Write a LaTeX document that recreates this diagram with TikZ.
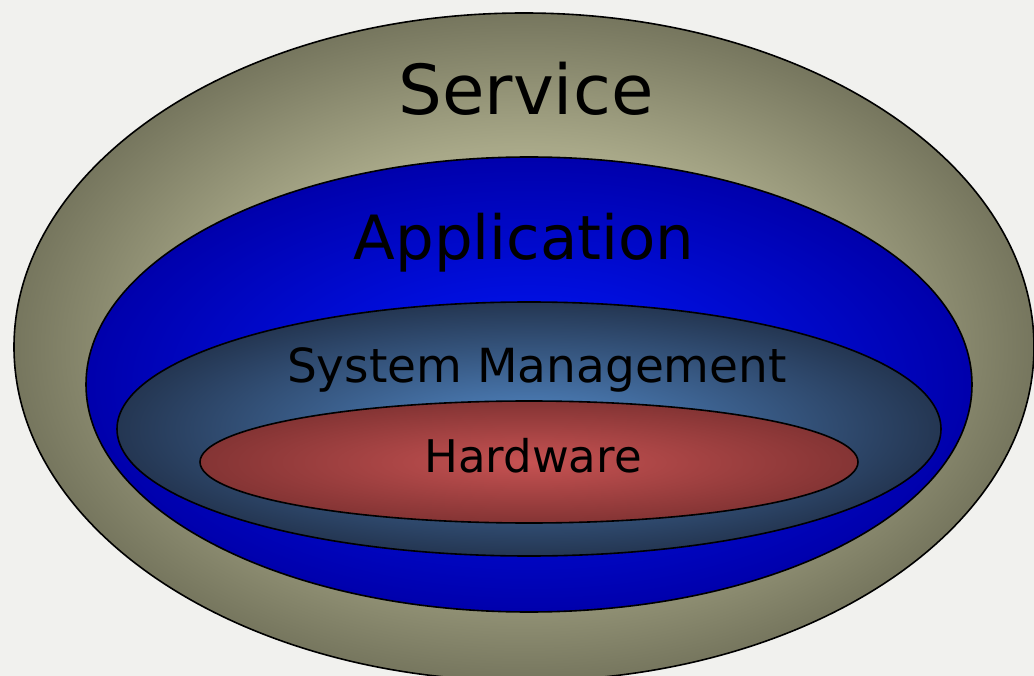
\documentclass[tikz,border=0pt]{standalone}
\usepackage{fontspec}
\setmainfont{DejaVu Sans}
\usetikzlibrary{shapes.geometric}

\definecolor{paper}{HTML}{F1F1EE}
\definecolor{svclight}{HTML}{D4D4B8}
\definecolor{svcmid}{HTML}{A8A888}
\definecolor{svcdark}{HTML}{76765E}
\definecolor{applight}{HTML}{0018FF}
\definecolor{appdark}{HTML}{0000AC}
\definecolor{syslight}{HTML}{5288C6}
\definecolor{sysdark}{HTML}{243652}
\definecolor{hwlight}{HTML}{C65252}
\definecolor{hwdark}{HTML}{843434}

\pgfdeclareradialshading{svcshade}{\pgfpoint{0bp}{0bp}}{color(0bp)=(svclight); color(15bp)=(svcmid); color(25bp)=(svcdark); color(50bp)=(svcdark)}
\pgfdeclareradialshading{appshade}{\pgfpoint{0bp}{0bp}}{color(0bp)=(applight); color(25bp)=(appdark); color(50bp)=(appdark)}
\pgfdeclareradialshading{sysshade}{\pgfpoint{0bp}{0bp}}{color(0bp)=(syslight); color(25bp)=(sysdark); color(50bp)=(sysdark)}
\pgfdeclareradialshading{hwshade}{\pgfpoint{0bp}{0bp}}{color(0bp)=(hwlight); color(25bp)=(hwdark); color(50bp)=(hwdark)}

\begin{document}
\begin{tikzpicture}[x=1pt, y=-1pt]
	\tikzstyle{every node}=[inner sep=0pt, outer sep=0pt]
	\tikzstyle{layer}=[ellipse, draw, line width=1.6pt, shade]

	// paper
	\useasboundingbox (0, 0) rectangle (1034, 676);
	\clip (0, 0) rectangle (1034, 676);
	\fill[paper] (0, 0) rectangle (1034, 676);

	// service
	\node[layer, shading=svcshade, minimum width=1020pt, minimum height=668pt](Service) at (524, 347) {};
	\node[font=\fontsize{69}{80}\selectfont, anchor=base](Service_Lbl) at (526, 115) {Service};

	// application
	\node[layer, shading=appshade, minimum width=886pt, minimum height=455pt](Application) at (529, 384.5) {};
	\node[font=\fontsize{61}{72}\selectfont, anchor=base](Application_Lbl) at (524, 260) {Application};

	// system management
	\node[layer, shading=sysshade, minimum width=824pt, minimum height=254pt](Sys_Mgmt) at (529, 429) {};
	\node[font=\fontsize{47}{56}\selectfont, anchor=base](Sys_Mgmt_Lbl) at (537, 382) {System Management};

	// hardware
	\node[layer, shading=hwshade, minimum width=658pt, minimum height=122pt](Hardware) at (529, 462) {};
	\node[font=\fontsize{45}{54}\selectfont, anchor=base](Hardware_Lbl) at (533, 472) {Hardware};
\end{tikzpicture}
\end{document}
